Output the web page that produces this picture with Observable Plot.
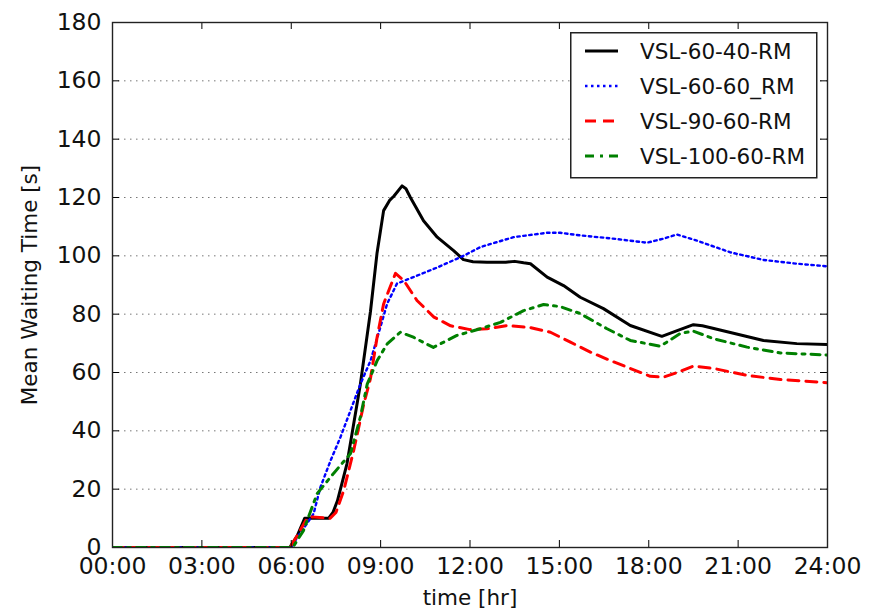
<!DOCTYPE html>
<html><head><meta charset="utf-8">
<script src="https://cdn.jsdelivr.net/npm/d3@7"></script>
<script src="https://cdn.jsdelivr.net/npm/@observablehq/plot@0.6"></script>
<style>
body{margin:0;background:#fff}
#wrap{position:relative;width:871px;height:612px;font-family:"DejaVu Sans",sans-serif}
#legend{position:absolute;left:570px;top:32px}
</style>
</head><body><div id="wrap"></div>
<script>
const seriesNames = ["VSL-60-40-RM", "VSL-60-60_RM", "VSL-90-60-RM", "VSL-100-60-RM"];
const seriesColors = ["#000000", "#0000ff", "#ff0000", "#008000"];

const blackHours = [0, 5.95, 6.2, 6.45, 6.6, 7.25, 7.4, 7.55, 7.87, 8.32, 8.66, 8.88, 9.1, 9.3, 9.45, 9.72, 9.85, 10.0, 10.44, 10.9, 11.45, 11.78, 12.1, 12.57, 13.2, 13.5, 13.8, 14.03, 14.59, 15.14, 15.7, 16.48, 17.38, 18.44, 19.0, 19.5, 19.8, 20.74, 21.85, 22.97, 24];
const blackValues = [0, 0, 4, 10, 10, 10, 12, 16, 28.7, 56, 81, 101, 115.5, 119, 120.5, 124, 123, 120, 112, 106.4, 101.8, 98.7, 98, 97.8, 97.8, 98.1, 97.6, 97.3, 92.7, 89.8, 85.8, 81.9, 76.1, 72.4, 74.5, 76.4, 76, 73.7, 71, 69.9, 69.6];

const blueHours = [0, 6.0, 6.2, 6.53, 6.75, 6.98, 7.32, 7.65, 7.99, 8.32, 8.66, 8.99, 9.22, 9.55, 10.1, 10.9, 11.78, 12.35, 13.46, 14.59, 15.03, 15.7, 16.8, 17.94, 18.5, 18.95, 19.62, 20.74, 21.85, 22.97, 24];
const blueValues = [0, 0, 3.5, 8.2, 11.6, 20.7, 29.8, 37.8, 47, 56, 64, 75.5, 83.6, 90.5, 92.7, 96, 100, 103, 106.4, 107.9, 107.9, 107, 105.9, 104.5, 105.9, 107.3, 105.2, 101.2, 98.6, 97.3, 96.4];

const redHours = [0, 5.95, 6.2, 6.5, 6.7, 7.3, 7.5, 7.76, 8.09, 8.43, 8.66, 8.88, 9.1, 9.27, 9.5, 9.78, 10.22, 10.79, 11.35, 12.0, 12.57, 13.24, 14.03, 14.7, 15.37, 16.04, 16.71, 17.38, 18.05, 18.5, 19.06, 19.5, 20.17, 21.3, 22.42, 24];
const redValues = [0, 0, 4, 9.5, 10.5, 10, 12, 19.5, 33, 49, 58, 72, 83.5, 88, 94, 91.5, 84.7, 79, 76, 74.7, 75, 76.1, 75.4, 73.8, 70.4, 67, 64.1, 61.4, 58.7, 58.4, 60.4, 62.2, 61.4, 59, 57.6, 56.5];

const greenHours = [0, 6.05, 6.41, 6.87, 7.42, 7.99, 8.32, 8.55, 8.88, 9.22, 9.66, 10.1, 10.77, 11.56, 12.35, 13.02, 13.8, 14.47, 15.03, 15.7, 16.6, 17.38, 18.39, 19.06, 19.5, 20.17, 21.3, 22.42, 24];
const greenValues = [0, 0, 5.8, 18.5, 25.4, 32.2, 44.7, 56, 64, 69.8, 73.8, 72.1, 68.6, 72.7, 75, 77.2, 81.2, 83.3, 82.6, 80.2, 75, 71, 69, 73.4, 74.2, 71.6, 68.7, 66.7, 66];

const xTicks = [0, 3, 6, 9, 12, 15, 18, 21, 24];
const xTickLabels = ["00:00", "03:00", "06:00", "09:00", "12:00", "15:00", "18:00", "21:00", "24:00"];
const yTicks = [0, 20, 40, 60, 80, 100, 120, 140, 160, 180];
const xLabel = "time [hr]";
const yLabel = "Mean Waiting Time [s]";

const allHours = [blackHours, blueHours, redHours, greenHours];
const allValues = [blackValues, blueValues, redValues, greenValues];
const dashes = [null, "2.5,3.5", "11,7", "9,6,3,6"];
const widths = [3, 2.4, 3, 3];

const W = 871, H = 612, mL = 112, mR = 44, mT = 22, mB = 65;
const tickPx = 7;
const tx = tickPx * 24 / (W - mL - mR);
const ty = tickPx * 180 / (H - mT - mB);

const seriesData = seriesNames.map((name, i) =>
  allHours[i].map((h, j) => ({series: name, hour: h, value: allValues[i][j]})));

const fmt = (h) => xTickLabels[xTicks.indexOf(h)];

const chart = Plot.plot({
  width: W, height: H,
  marginLeft: mL, marginRight: mR, marginTop: mT, marginBottom: mB,
  style: {fontFamily: "DejaVu Sans", fontSize: "23px", background: "white", color: "#111", overflow: "visible"},
  x: {domain: [0, 24], label: null},
  y: {domain: [0, 180], label: null},
  marks: [
    Plot.ruleY(yTicks.filter(v => v > 0 && v < 180), {y: d => d, stroke: "#777", strokeWidth: 1, strokeDasharray: "1.5,4.5"}),
    ...seriesData.map((d, i) => Plot.line(d, {
      x: "hour", y: "value", stroke: seriesColors[i], strokeWidth: widths[i],
      strokeDasharray: dashes[i], strokeLinejoin: "round", clip: true
    })),
    Plot.ruleX(xTicks, {x: d => d, y1: 0, y2: ty, stroke: "black"}),
    Plot.ruleX(xTicks, {x: d => d, y1: 180, y2: 180 - ty, stroke: "black"}),
    Plot.ruleY(yTicks, {y: d => d, x1: 0, x2: tx, stroke: "black"}),
    Plot.ruleY(yTicks, {y: d => d, x1: 24, x2: 24 - tx, stroke: "black"}),
    Plot.frame({stroke: "#222", strokeWidth: 1.4}),
    Plot.axisX({ticks: xTicks, tickFormat: fmt, tickSize: 0, tickPadding: 10, label: null, fontSize: 23.5}),
    Plot.axisY({ticks: yTicks, tickSize: 0, tickPadding: 11, label: null, fontSize: 23.5}),
    Plot.text([xLabel], {frameAnchor: "bottom", dy: 57, fontSize: 21.5, text: d => d}),
    Plot.text([yLabel], {frameAnchor: "left", dx: -82, rotate: -90, textAnchor: "middle", fontSize: 21.5, text: d => d})
  ]
});

const wrap = document.getElementById("wrap");
wrap.appendChild(chart);

// legend
const lg = d3.create("svg").attr("id", "legend").attr("width", 248).attr("height", 147);
lg.append("rect").attr("x", 0.75).attr("y", 0.75).attr("width", 246).attr("height", 145)
  .attr("fill", "white").attr("stroke", "#222").attr("stroke-width", 1.5);
seriesNames.forEach((name, i) => {
  const y = 19 + i * 35;
  lg.append("line").attr("x1", 15).attr("x2", 48).attr("y1", y).attr("y2", y)
    .attr("stroke", seriesColors[i]).attr("stroke-width", widths[i])
    .attr("stroke-dasharray", dashes[i]);
  lg.append("text").attr("x", 70).attr("y", y).attr("dy", "0.36em")
    .attr("font-family", "DejaVu Sans").attr("font-size", 21.5).attr("fill", "#111").text(name);
});
wrap.appendChild(lg.node());
</script>
</body></html>
